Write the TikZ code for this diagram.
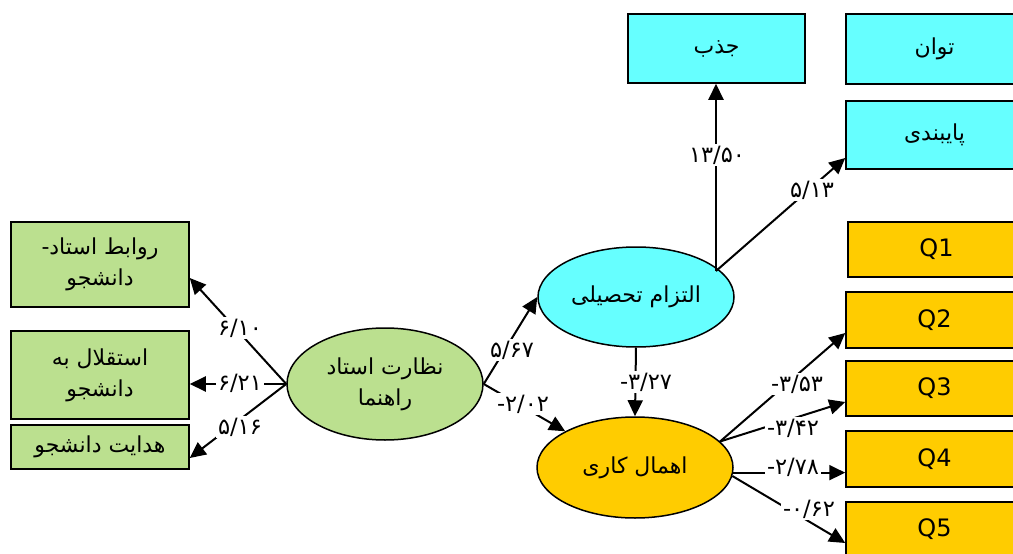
\documentclass[tikz,border=0pt]{standalone}
\usepackage{fontspec}
\TeXXeTstate=1
\setmainfont{DejaVu Sans}
\newfontfamily\fa[Script=Arabic]{DejaVu Sans}
\newfontfamily\fanum{DejaVu Sans}
\usetikzlibrary{arrows.meta,calc,shapes.geometric}
\definecolor{cy}{RGB}{102,255,255}
\definecolor{og}{RGB}{255,204,0}
\definecolor{gr}{RGB}{187,224,143}
\begin{document}
\begin{tikzpicture}[x=1pt,y=-1pt,
  box/.style={draw=black, line width=1.5pt, rectangle, inner sep=0pt, align=center,
    font=\fa\fontsize{22}{31}\selectfont},
  qbox/.style={draw=black, line width=1.5pt, rectangle, inner sep=0pt, fill=og,
    minimum width=177pt, font=\fontsize{24}{26}\selectfont},
  ell/.style={draw=black, line width=1.5pt, ellipse, inner sep=0pt, align=center,
    minimum width=196pt, font=\fa\fontsize{22}{31}\selectfont},
  con/.style={line width=2pt, -{Triangle[length=16pt,width=15pt]}},
  lab/.style={fill=white, inner sep=2pt, font=\fanum\fontsize{22.5}{24}\selectfont}]
\useasboundingbox (0,0) rectangle (1013,554);
\fill[white] (0,0) rectangle (1013,554);
\clip (0,0) rectangle (1013,554);

% boxes
\node[box, fill=cy, minimum width=177pt, minimum height=69pt] (jazb) at (716.5,48.5) {\beginR جذب\endR};
\node[box, fill=cy, minimum width=177pt, minimum height=70pt] (tavan) at (934.5,49) {\beginR توان\endR};
\node[box, fill=cy, minimum width=177pt, minimum height=68pt] (payb) at (934.5,135) {\beginR پایبندی\endR};
\node[qbox, minimum height=55pt] (Q1) at (936.5,249.5) {Q1};
\node[qbox, minimum height=56pt] (Q2) at (934.5,320) {Q2};
\node[qbox, minimum height=55pt] (Q3) at (934.5,388.5) {Q3};
\node[qbox, minimum height=56pt] (Q4) at (934.5,459) {Q4};
\node[qbox, minimum height=55pt] (Q5) at (934.5,529.5) {Q5};
\node[box, fill=gr, minimum width=178pt, minimum height=85pt] (rbt) at (100,264.5)
  {\beginR روابط استاد-\endR\\\beginR دانشجو\endR};
\node[box, fill=gr, minimum width=178pt, minimum height=88pt] (esq) at (100,375)
  {\beginR استقلال به\endR\\\beginR دانشجو\endR};
\node[box, fill=gr, minimum width=178pt, minimum height=44pt] (hdy) at (100,447)
  {\beginR هدایت دانشجو\endR};

% ellipses
\node[ell, fill=gr, minimum height=112pt] (nz) at (385,384)
  {\beginR نظارت استاد\endR\\\beginR راهنما\endR};
\node[ell, fill=cy, minimum height=100pt] (tz) at (636,297) {\beginR التزام تحصیلی\endR};
\node[ell, fill=og, minimum height=101pt] (ah) at (635,467.5) {\beginR اهمال کاری\endR};

% connectors
\draw[con] (nz.west) -- ($(rbt.east)+(0,13.5)$);
\draw[con] (nz.west) -- (nz.west -| esq.east);
\draw[con] (nz.west) -- ($(hdy.east)+(0,11)$);
\draw[con] (nz.east) -- (tz.west);
\draw[con] (nz.east) -- (ah.north west);
\draw[con] (tz.south) -- (ah.north);
\coordinate (tzp) at ($(tz.center)+(80,-26)$);
\draw[con] (tzp) -- (tzp |- jazb.south);
\draw[con] (tzp) -- ($(payb.west)+(0,23)$);
\draw[con] (ah.17) -- ($(Q2.west)+(0,13)$);
\draw[con] (ah.17) -- ($(Q3.west)+(0,13.5)$);
\draw[con] (ah.-3) -- (ah.-3 -| Q4.west);
\draw[con] (ah.-5) -- ($(Q5.west)+(0,13.5)$);

% labels
\node[lab] (l1) at (240,328) {۶/۱۰};
\node[lab] (l2) at (240,383) {۶/۲۱};
\node[lab] (l3) at (240,427) {۵/۱۶};
\node[lab] (l4) at (512,350) {۵/۶۷};
\node[lab] (l5) at (523,404) {-۲/۰۲};
\node[lab] (l6) at (646,382) {-۳/۲۷};
\node[lab] (l7) at (717,155) {۱۳/۵۰};
\node[lab] (l8) at (812,190) {۵/۱۳};
\node[lab] (l9) at (797,384) {-۳/۵۳};
\node[lab] (l10) at (793,428) {-۳/۴۲};
\node[lab] (l11) at (793,467) {-۲/۷۸};
\node[lab] (l12) at (809,509) {-۰/۶۲};
\end{tikzpicture}
\end{document}
